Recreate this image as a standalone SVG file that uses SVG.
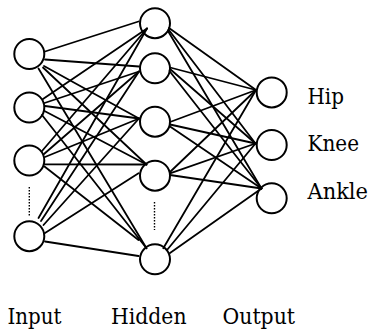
<svg xmlns="http://www.w3.org/2000/svg" width="371" height="331" viewBox="0 0 371 331">
  <style>
    .node { fill: none; stroke: #000; stroke-width: 2; }
    .edge { stroke: #000; stroke-width: 1.8; stroke-linecap: round; fill: none; }
    .dots { stroke: #000; stroke-width: 1.4; stroke-dasharray: 1.4 1.6; fill: none; }
  </style>

  <!-- connections: input layer to hidden layer, hidden layer to output layer -->
  <g id="connectors">
    <!-- input 1 -->
    <line class="edge" x1="45" y1="51.5" x2="138.5" y2="21.5"/>
    <line class="edge" x1="45" y1="59.5" x2="139" y2="66.5"/>
    <line class="edge" x1="44" y1="66" x2="139" y2="118.5"/>
    <line class="edge" x1="43" y1="67.5" x2="146.5" y2="164.5"/>
    <line class="edge" x1="38.5" y1="68.5" x2="146.5" y2="248.3"/>
    <!-- input 2 -->
    <line class="edge" x1="43" y1="99" x2="147" y2="28.5"/>
    <line class="edge" x1="44.5" y1="103" x2="139" y2="71.5"/>
    <line class="edge" x1="45" y1="106" x2="139" y2="118.5"/>
    <line class="edge" x1="44.5" y1="111" x2="146.5" y2="164.5"/>
    <line class="edge" x1="42" y1="115" x2="146.5" y2="248.3"/>
    <!-- input 3 -->
    <line class="edge" x1="42" y1="151" x2="147" y2="28.5"/>
    <line class="edge" x1="44" y1="154" x2="139" y2="71.5"/>
    <line class="edge" x1="45" y1="157" x2="139" y2="118.5"/>
    <line class="edge" x1="45" y1="164.3" x2="146.5" y2="164.5"/>
    <line class="edge" x1="44.5" y1="166.5" x2="138.5" y2="240"/>
    <!-- input 4 -->
    <line class="edge" x1="38.5" y1="218" x2="147" y2="28.5"/>
    <line class="edge" x1="41" y1="221" x2="139" y2="71.5"/>
    <line class="edge" x1="43.5" y1="225" x2="139" y2="118.5"/>
    <line class="edge" x1="45" y1="233" x2="138.5" y2="173.3"/>
    <line class="edge" x1="45" y1="241.5" x2="138.5" y2="256"/>

    <!-- hidden 1 -->
    <line class="edge" x1="169" y1="28" x2="256" y2="90"/>
    <line class="edge" x1="168.5" y1="29.5" x2="255.5" y2="143.5"/>
    <line class="edge" x1="168" y1="31" x2="261.5" y2="188.5"/>
    <!-- hidden 2 -->
    <line class="edge" x1="170" y1="67.5" x2="256" y2="90"/>
    <line class="edge" x1="170" y1="69" x2="255.5" y2="143.5"/>
    <line class="edge" x1="169.5" y1="71" x2="261.5" y2="188.5"/>
    <!-- hidden 3 -->
    <line class="edge" x1="170" y1="122" x2="256" y2="90"/>
    <line class="edge" x1="170" y1="124.5" x2="255.5" y2="143.5"/>
    <line class="edge" x1="170" y1="126.5" x2="261.5" y2="188.5"/>
    <!-- hidden 4 -->
    <line class="edge" x1="170" y1="172" x2="256" y2="90"/>
    <line class="edge" x1="170" y1="173.3" x2="255.5" y2="143.5"/>
    <line class="edge" x1="170" y1="175" x2="261.5" y2="188.5"/>
    <!-- hidden 5 -->
    <line class="edge" x1="163.3" y1="248.3" x2="256" y2="90"/>
    <line class="edge" x1="167" y1="250" x2="255.5" y2="143.5"/>
    <line class="edge" x1="170" y1="253" x2="261.5" y2="188.5"/>
  </g>

  <!-- input layer -->
  <g id="input-1"><circle class="node" cx="29.3" cy="54" r="15"/></g>
  <g id="input-2"><circle class="node" cx="29.3" cy="107.5" r="15"/></g>
  <g id="input-3"><circle class="node" cx="29.3" cy="160.5" r="15"/></g>
  <g id="input-4"><circle class="node" cx="29.3" cy="236.2" r="15"/></g>
  <g id="input-ellipsis"><line class="dots" x1="29.3" y1="187" x2="29.3" y2="216"/></g>

  <!-- hidden layer -->
  <g id="hidden-1"><circle class="node" cx="155" cy="23.2" r="15"/></g>
  <g id="hidden-2"><circle class="node" cx="155" cy="68.3" r="15"/></g>
  <g id="hidden-3"><circle class="node" cx="155" cy="121.7" r="15"/></g>
  <g id="hidden-4"><circle class="node" cx="155" cy="175.7" r="15"/></g>
  <g id="hidden-5"><circle class="node" cx="155" cy="259.3" r="15"/></g>
  <g id="hidden-ellipsis"><line class="dots" x1="154.5" y1="202" x2="154.5" y2="230"/></g>

  <!-- output layer -->
  <g id="output-hip">
    <circle class="node" cx="271.7" cy="92.4" r="15"/>
    <text x="307.5" y="104" font-family="DejaVu Serif" font-size="21.5" textLength="36.5" lengthAdjust="spacingAndGlyphs">Hip</text>
  </g>
  <g id="output-knee">
    <circle class="node" cx="271.7" cy="145" r="15"/>
    <text x="307.5" y="150.7" font-family="DejaVu Serif" font-size="21.5" textLength="51.5" lengthAdjust="spacingAndGlyphs">Knee</text>
  </g>
  <g id="output-ankle">
    <circle class="node" cx="271.7" cy="198.3" r="15"/>
    <text x="307.5" y="199" font-family="DejaVu Serif" font-size="21.5" textLength="60.5" lengthAdjust="spacingAndGlyphs">Ankle</text>
  </g>

  <!-- layer captions -->
  <g id="captions">
    <text x="7.5" y="324.3" font-family="DejaVu Serif" font-size="21.5" textLength="54" lengthAdjust="spacingAndGlyphs">Input</text>
    <text x="111" y="324.3" font-family="DejaVu Serif" font-size="21.5" textLength="75.5" lengthAdjust="spacingAndGlyphs">Hidden</text>
    <text x="222.5" y="324.3" font-family="DejaVu Serif" font-size="21.5" textLength="72.5" lengthAdjust="spacingAndGlyphs">Output</text>
  </g>
</svg>
